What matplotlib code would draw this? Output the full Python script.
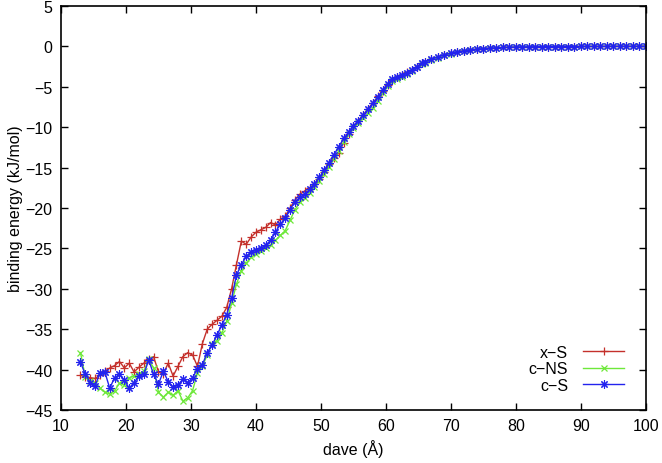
import matplotlib.pyplot as plt

# distance values (Angstrom)
dave = [13, 13.75, 14.5, 15.25, 16, 16.75, 17.5, 18.25, 19, 19.75,
        20.5, 21.25, 22, 22.75, 23.5, 24.25, 25, 25.75, 26.5, 27.25,
        28, 28.75, 29.5, 30.25, 31, 31.75, 32.5, 33.25, 34, 34.75,
        35.5, 36.25, 37, 37.75, 38.5, 39.25, 40, 40.75, 41.5, 42.25,
        43, 43.75, 44.5, 45.25, 46, 46.75, 47.5, 48.25, 49, 49.75,
        50.5, 51.25, 52, 52.75, 53.5, 54.25, 55, 55.75, 56.5, 57.25,
        58, 58.75, 59.5, 60.25, 61, 61.75, 62.5, 63.25, 64, 64.75,
        65.5, 66, 67, 68, 69, 70, 71, 72, 73, 74,
        75, 76, 77, 78, 79, 80, 81, 82, 83, 84,
        85, 86, 87, 88, 89, 90, 91, 92, 93, 94,
        95, 96, 97, 98, 99, 100]

x_S = [-40.7, -40.9, -41.0, -41.1, -40.7, -40.2, -39.8, -39.5, -39.0, -39.8,
       -39.2, -40.3, -39.7, -39.2, -38.7, -38.4, -40.3, -40.5, -39.2, -40.8,
       -39.6, -38.4, -37.9, -38.2, -39.6, -36.8, -35.0, -34.4, -33.9, -33.4,
       -32.3, -30.0, -27.0, -24.1, -24.5, -23.6, -23.0, -22.7, -22.4, -21.8,
       -22.1, -21.4, -21.0, -20.0, -19.0, -18.3, -17.9, -17.5, -17.0, -16.4,
       -15.5, -14.5, -13.8, -13.2, -11.9, -10.9, -9.9, -9.2, -8.5, -7.7,
       -7.0, -6.2, -5.5, -4.8, -4.2, -3.8, -3.5, -3.2, -2.9, -2.5,
       -2.1, -1.9, -1.6, -1.3, -1.05, -0.85, -0.68, -0.55, -0.44, -0.35,
       -0.28, -0.22, -0.18, -0.14, -0.11, -0.09, -0.07, -0.06, -0.05, -0.04,
       -0.03, -0.03, -0.02, -0.02, -0.02, -0.01, -0.01, -0.01, -0.01, 0.0,
       0.0, 0.0, 0.0, 0.0, 0.0, 0.0]

c_NS = [-37.9, -40.9, -41.4, -41.6, -42.3, -42.8, -43.0, -42.6, -41.7, -41.9,
        -41.0, -40.8, -40.5, -40.2, -38.7, -39.8, -42.8, -43.4, -42.8, -43.2,
        -42.6, -43.9, -43.5, -42.6, -40.4, -39.6, -38.2, -36.8, -36.4, -35.5,
        -34.0, -31.8, -29.4, -27.8, -26.8, -26.1, -25.7, -25.3, -25.0, -24.6,
        -24.0, -23.4, -22.8, -21.5, -20.2, -19.3, -18.8, -18.1, -17.4, -16.6,
        -15.8, -14.9, -13.9, -12.9, -11.8, -10.9, -10.1, -9.5, -8.9, -8.3,
        -7.6, -6.8, -5.8, -4.9, -4.3, -4.0, -3.8, -3.4, -3.0, -2.6,
        -2.2, -2.0, -1.7, -1.4, -1.12, -0.9, -0.72, -0.57, -0.45, -0.36,
        -0.29, -0.23, -0.18, -0.14, -0.11, -0.09, -0.07, -0.06, -0.05, -0.04,
        -0.03, -0.03, -0.02, -0.02, -0.02, -0.01, -0.01, -0.01, -0.01, 0.0,
        0.0, 0.0, 0.0, 0.0, 0.0, 0.0]

c_S = [-39.1, -40.6, -41.6, -42.0, -40.4, -40.3, -42.3, -41.0, -40.6, -41.3,
       -42.3, -41.6, -40.8, -40.6, -38.8, -40.6, -41.8, -40.2, -41.5, -42.2,
       -41.9, -41.2, -41.6, -41.0, -39.9, -39.4, -37.9, -37.0, -35.7, -34.5,
       -33.2, -31.2, -28.3, -27.0, -26.0, -25.5, -25.2, -25.0, -24.6, -24.0,
       -23.0, -22.0, -21.3, -20.2, -19.2, -18.7, -18.3, -17.7, -17.0, -16.2,
       -15.3, -14.4, -13.4, -12.4, -11.4, -10.6, -9.8, -9.2, -8.5, -7.8,
       -7.0, -6.3, -5.4, -4.6, -4.1, -3.8, -3.6, -3.3, -2.9, -2.5,
       -2.1, -1.9, -1.6, -1.3, -1.05, -0.85, -0.68, -0.55, -0.44, -0.35,
       -0.28, -0.22, -0.18, -0.14, -0.11, -0.09, -0.07, -0.06, -0.05, -0.04,
       -0.03, -0.03, -0.02, -0.02, -0.02, -0.01, -0.01, -0.01, -0.01, 0.0,
       0.0, 0.0, 0.0, 0.0, 0.0, 0.0]

plt.rcParams['font.family'] = ['Liberation Sans', 'DejaVu Sans']
plt.rcParams['font.size'] = 11.5

fig = plt.figure(figsize=(6.62, 4.64), dpi=100)
ax = fig.add_axes([0.0921, 0.1142, 0.8837, 0.8708])

ax.plot(dave, x_S, color='#c4302b', marker='+', ms=6, mew=0.9, lw=1.0,
        label='x\u2212S')
ax.plot(dave, c_NS, color='#6ee83a', marker='x', ms=5, mew=0.9, lw=1.0,
        label='c\u2212NS')
ax.plot(dave, c_S, color='#2323ee', marker=(8, 2, 0), ms=6, mew=0.8, lw=1.0,
        label='c\u2212S')

ax.set_xlim(10, 100)
ax.set_ylim(-45, 5)
ax.set_xticks(range(10, 101, 10))
ax.set_yticks(range(-45, 6, 5))
ax.tick_params(direction='in', top=True, right=True, length=5, width=1,
               pad=6)
for s in ax.spines.values():
    s.set_linewidth(1.2)

ax.set_xlabel('dave (\u00c5)')
ax.set_ylabel('binding energy (kJ/mol)', labelpad=2)

leg = ax.legend(loc='lower right', bbox_to_anchor=(0.982, 0.015),
                frameon=False, markerfirst=False, handlelength=2.6,
                handletextpad=0.9, labelspacing=0.1, borderpad=0.2)
leg._legend_box.align = 'right'

fig.savefig('out.png', dpi=100)
